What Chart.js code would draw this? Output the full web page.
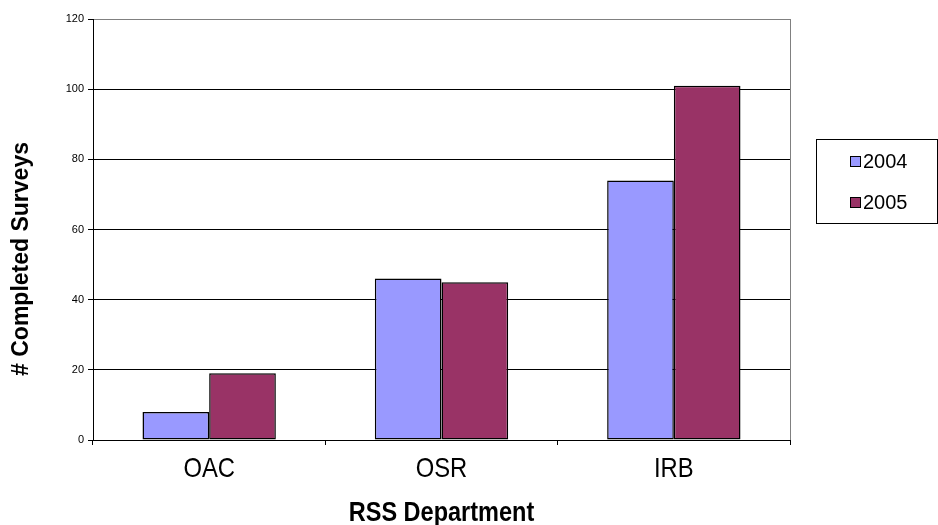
<!DOCTYPE html>
<html>
<head>
<meta charset="utf-8">
<script src="https://cdn.jsdelivr.net/npm/chart.js@4"></script>
<style>
  html, body { margin: 0; padding: 0; background: #fff; }
  #wrap { width: 938px; height: 525px; }
</style>
</head>
<body>
<div id="wrap"><canvas id="c" width="938" height="525"></canvas></div>
<script>
const departments = ['OAC', 'OSR', 'IRB'];
const surveys2004 = [8, 46, 74];
const surveys2005 = [19, 45, 101];
const seriesLabels = ['2004', '2005'];
const yTitle = '# Completed Surveys';
const xTitle = 'RSS Department';

// narrow text: no Arial Narrow installed, so squeeze Liberation Sans
function narrowText(ctx, text, x, y, squeeze) {
  ctx.save();
  ctx.translate(x, y);
  ctx.scale(squeeze, 1);
  ctx.fillText(text, 0, 0);
  ctx.restore();
}

// frame, category labels, titles and boxed legend
const excelLook = {
  id: 'excelLook',
  afterDraw(chart) {
    const { ctx, chartArea: a } = chart;
    const xs = chart.scales.x;
    ctx.save();
    ctx.strokeStyle = '#808080';
    ctx.lineWidth = 1;
    ctx.beginPath();
    ctx.moveTo(Math.round(a.right) + 0.5, a.top);
    ctx.lineTo(Math.round(a.right) + 0.5, a.bottom);
    ctx.stroke();

    ctx.fillStyle = '#000';
    ctx.textAlign = 'center';
    ctx.textBaseline = 'alphabetic';
    ctx.font = '28px "Liberation Sans", Arial, sans-serif';
    chart.data.labels.forEach((lab, i) => {
      narrowText(ctx, lab, xs.getPixelForValue(i), 477, 0.85);
    });
    ctx.font = 'bold 28px "Liberation Sans", Arial, sans-serif';
    narrowText(ctx, xTitle, (a.left + a.right) / 2, 521, 0.84);

    ctx.translate(28, 259);
    ctx.rotate(-Math.PI / 2);
    ctx.font = 'bold 23px "Liberation Sans", Arial, sans-serif';
    ctx.fillText(yTitle, 0, 0);
    ctx.restore();

    // legend
    ctx.save();
    ctx.strokeStyle = '#000';
    ctx.lineWidth = 1;
    ctx.strokeRect(816.5, 139.5, 121, 84);
    ctx.font = '20px "Liberation Sans", Arial, sans-serif';
    ctx.textBaseline = 'middle';
    ctx.textAlign = 'left';
    chart.data.datasets.forEach((ds, i) => {
      const y = 161.5 + i * 41;
      ctx.fillStyle = ds.backgroundColor;
      ctx.fillRect(850, y - 5.5, 11, 11);
      ctx.strokeStyle = '#000';
      ctx.strokeRect(850.5, y - 5, 10, 10);
      ctx.fillStyle = '#000';
      ctx.fillText(ds.label, 863, y + 1);
    });
    ctx.restore();
  }
};

new Chart(document.getElementById('c'), {
  type: 'bar',
  data: {
    labels: departments,
    datasets: [
      { label: seriesLabels[0], data: surveys2004, backgroundColor: '#9999FF', borderColor: '#000', borderWidth: 1.5, borderSkipped: false },
      { label: seriesLabels[1], data: surveys2005, backgroundColor: '#993366', borderColor: '#000', borderWidth: 1.5, borderSkipped: false }
    ]
  },
  options: {
    responsive: false,
    animation: false,
    devicePixelRatio: 1,
    layout: { padding: { left: 0, right: 148, top: 19, bottom: 0 } },
    datasets: { bar: { categoryPercentage: 0.574, barPercentage: 1.0 } },
    plugins: {
      legend: { display: false },
      tooltip: { enabled: false }
    },
    scales: {
      x: {
        afterFit(scale) { scale.height = 85; },
        grid: { drawOnChartArea: false, drawTicks: true, tickLength: 5, color: '#000', offset: true },
        border: { color: '#000' },
        ticks: { display: false }
      },
      y: {
        min: 0,
        max: 120,
        afterFit(scale) { scale.width = 93; },
        grid: {
          color: (c) => (c.tick && c.tick.value === 120 ? '#808080' : '#000'),
          tickColor: '#000',
          tickLength: 5
        },
        border: { color: '#000' },
        ticks: {
          stepSize: 20,
          color: '#000',
          padding: 4,
          font: { family: '"Liberation Sans", Arial, sans-serif', size: 11 }
        }
      }
    }
  },
  plugins: [excelLook]
});
</script>
</body>
</html>
